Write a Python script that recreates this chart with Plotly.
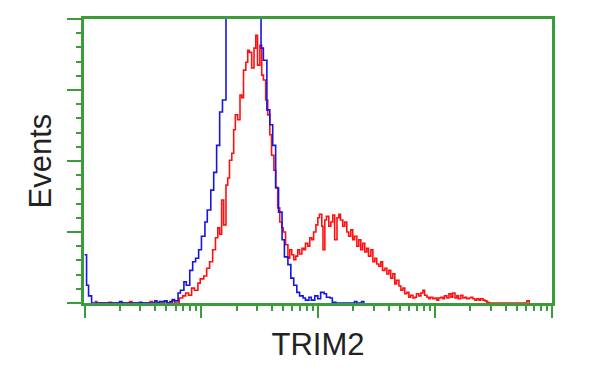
import plotly.graph_objects as go

# Histogram data: log10 channel position and event counts
blue_log = [0.000, 0.017, 0.034, 0.060, 0.300, 0.320, 0.470, 0.490, 0.600, 0.620, 0.640, 0.685, 0.705, 0.730, 0.750, 0.770,
            0.800, 0.820, 0.850, 0.870, 0.900, 0.925, 0.950, 0.976, 1.000, 1.030, 1.050, 1.080, 1.105, 1.130, 1.156, 1.180,
            1.210, 1.240, 1.270, 1.300, 1.330, 1.360, 1.390, 1.420, 1.450, 1.480, 1.510, 1.530, 1.560, 1.585, 1.610, 1.635,
            1.660, 1.690, 1.710, 1.740, 1.765, 1.790, 1.816, 1.840, 1.870, 1.890, 1.920, 1.940, 1.970, 1.996, 2.020, 2.050,
            2.070, 2.100, 2.120, 2.150, 2.310, 2.330, 2.370, 2.390]
blue_counts = [68, 25, 10, 0, 2, 0, 1, 0, 3, 0, 2, 3, 0, 2, 5, 3,
               14, 18, 30, 25, 46, 58, 63, 75, 94, 114, 131, 159, 184, 222, 269, 286,
               470, 520, 560, 600, 590, 610, 580, 560, 540, 500, 359, 342, 272, 251, 222, 162,
               128, 89, 65, 54, 35, 25, 15, 10, 7, 4, 8, 4, 10, 6, 15, 13,
               8, 7, 1, 0, 2, 0, 2, 0]

red_log = [0.085, 0.105, 0.210, 0.230, 0.385, 0.405, 0.560, 0.580, 0.685, 0.705, 0.750, 0.770,
           0.810, 0.840, 0.865, 0.890, 0.916, 0.940, 0.970, 0.990, 1.020, 1.045, 1.070, 1.096, 1.120, 1.140,
           1.156, 1.173, 1.190, 1.210, 1.225, 1.240, 1.260, 1.276, 1.290, 1.310, 1.330, 1.345, 1.360, 1.380,
           1.396, 1.410, 1.430, 1.450, 1.465, 1.480, 1.500, 1.516, 1.530, 1.550, 1.567, 1.585, 1.600, 1.620,
           1.636, 1.653, 1.670, 1.687, 1.700, 1.720, 1.740, 1.756, 1.773, 1.790, 1.807, 1.824, 1.840, 1.860,
           1.876, 1.890, 1.910, 1.927, 1.944, 1.960, 1.980, 1.996, 2.010, 2.030, 2.040, 2.056, 2.070, 2.090,
           2.107, 2.124, 2.140, 2.160, 2.176, 2.190, 2.210, 2.227, 2.244, 2.260, 2.278, 2.295, 2.310, 2.330,
           2.347, 2.364, 2.380, 2.398, 2.415, 2.430, 2.450, 2.467, 2.484, 2.500, 2.518, 2.535, 2.550, 2.570,
           2.587, 2.604, 2.620, 2.638, 2.655, 2.670, 2.690, 2.707, 2.724, 2.740, 2.758, 2.775, 2.790, 2.810,
           2.826, 2.840, 2.860, 2.878, 2.895, 2.910, 2.930, 2.946, 2.960, 2.980, 2.998, 3.015, 3.030, 3.050,
           3.066, 3.080, 3.100, 3.118, 3.135, 3.150, 3.170, 3.186, 3.200, 3.220, 3.237, 3.255, 3.270, 3.290,
           3.306, 3.323, 3.340, 3.357, 3.375, 3.390, 3.410, 3.426, 3.443, 3.460, 3.785, 3.805]
red_counts = [2, 0, 1, 0, 2, 0, 2, 0, 3, 0, 3, 0,
              7, 10, 14, 11, 21, 18, 28, 34, 38, 49, 58, 75, 92, 106,
              97, 145, 110, 166, 176, 201, 211, 244, 265, 258, 293, 289, 328, 339,
              356, 353, 331, 359, 377, 335, 363, 321, 314, 286, 265, 237, 208, 187,
              163, 134, 114, 106, 100, 82, 63, 75, 68, 61, 66, 75, 69, 77,
              75, 84, 80, 92, 89, 100, 110, 120, 125, 108, 75, 117, 122, 108,
              114, 124, 89, 120, 125, 117, 108, 114, 100, 94, 103, 89, 94, 80,
              89, 75, 84, 72, 77, 66, 75, 58, 63, 55, 52, 58, 46, 49,
              41, 46, 35, 41, 27, 32, 24, 18, 21, 13, 15, 8, 11, 7,
              8, 13, 10, 14, 18, 11, 8, 6, 8, 6, 7, 4, 7, 8,
              6, 10, 7, 13, 8, 14, 7, 10, 6, 11, 7, 8, 6, 7,
              8, 6, 4, 6, 4, 6, 4, 3, 1, 0, 3, 0]

x_title = "TRIM2"
y_title = "Events"

green = "#3c9c3c"

fig = go.Figure()
fig.add_trace(go.Scatter(x=[10 ** v for v in red_log], y=red_counts, mode="lines",
                         line=dict(color="#ff1010", width=1.6, shape="hv"), showlegend=False))
fig.add_trace(go.Scatter(x=[10 ** v for v in blue_log], y=blue_counts, mode="lines",
                         line=dict(color="#1515e6", width=1.6, shape="hv"), showlegend=False))

fig.update_layout(
    width=600, height=375,
    margin=dict(l=84, r=48, t=19, b=72),
    paper_bgcolor="white", plot_bgcolor="white",
    font=dict(family="Liberation Sans, Arial, sans-serif", color="#222222"),
    xaxis=dict(type="log", range=[-0.005, 4.0], dtick=1, showticklabels=False,
               showgrid=False, zeroline=False, showline=True, linecolor=green, linewidth=2.5,
               mirror=True, ticks="outside", ticklen=12, tickwidth=2, tickcolor=green,
               minor=dict(ticks="outside", ticklen=5, tickwidth=1.5, tickcolor=green, dtick="D1", showgrid=False),
               title=dict(text=x_title, font=dict(size=31), standoff=17)),
    yaxis=dict(range=[0, 400], dtick=100, showticklabels=False,
               showgrid=False, zeroline=False, showline=True, linecolor=green, linewidth=2.5,
               mirror=True, ticks="outside", ticklen=14, tickwidth=2, tickcolor=green,
               minor=dict(ticks="outside", ticklen=5, tickwidth=1.5, tickcolor=green, dtick=20, showgrid=False),
               title=dict(text=y_title, font=dict(size=31), standoff=7)),
)

fig.write_html("out.html")
